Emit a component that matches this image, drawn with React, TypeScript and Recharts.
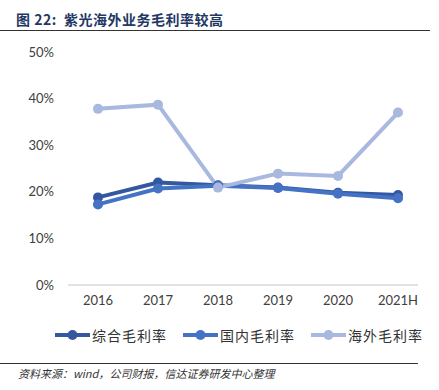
import { LineChart, Line, XAxis, YAxis } from "recharts";

const YEARS = ["2016", "2017", "2018", "2019", "2020", "2021H"];
const TOTAL_MARGIN = [18.8, 22.0, 21.4, 20.9, 19.8, 19.3];
const DOMESTIC_MARGIN = [17.3, 20.7, 21.3, 20.8, 19.6, 18.6];
const OVERSEAS_MARGIN = [37.8, 38.7, 20.9, 23.9, 23.4, 37.0];
const Y_TICKS = [0, 10, 20, 30, 40, 50];

const SERIES = [
  { key: "total", name: "综合毛利率", color: "#34589f" },
  { key: "domestic", name: "国内毛利率", color: "#4472c4" },
  { key: "overseas", name: "海外毛利率", color: "#a9b8de" },
];

const data = YEARS.map((year, i) => ({
  year,
  total: TOTAL_MARGIN[i],
  domestic: DOMESTIC_MARGIN[i],
  overseas: OVERSEAS_MARGIN[i],
}));

const CJK = '"Noto Sans CJK SC", "Noto Sans", sans-serif';
const tickStyle = { fontSize: 13, fill: "#404040", fontFamily: "Lato, sans-serif" };

function LegendRow() {
  return (
    <div
      style={{
        position: "absolute",
        top: 325,
        left: 55,
        display: "flex",
        gap: 16,
        fontFamily: CJK,
        fontSize: 14,
        color: "#333",
        lineHeight: "20px",
      }}
    >
      {SERIES.map((s) => (
        <div key={s.key} style={{ display: "flex", alignItems: "center" }}>
          <svg width={35} height={12} style={{ marginRight: 2 }}>
            <line x1={0} y1={6} x2={35} y2={6} stroke={s.color} strokeWidth={4} />
            <circle cx={17.5} cy={6} r={5} fill={s.color} />
          </svg>
          <span style={{ letterSpacing: 1 }}>{s.name}</span>
        </div>
      ))}
    </div>
  );
}

export default function App() {
  return (
    <div
      style={{
        position: "absolute",
        left: 0,
        top: 0,
        width: 439,
        height: 390,
        background: "#fff",
        overflow: "hidden",
      }}
    >
      <div
        style={{
          position: "absolute",
          left: 16,
          top: 9,
          fontFamily: CJK,
          fontWeight: 700,
          fontSize: 14,
          color: "#1f3864",
          whiteSpace: "nowrap",
          letterSpacing: 0.5,
        }}
      >
        图 22:&nbsp; 紫光海外业务毛利率较高
      </div>
      <div
        style={{
          position: "absolute",
          left: 0,
          top: 30,
          width: 430,
          height: 1,
          background: "#333",
        }}
      />
      <div style={{ position: "absolute", left: 0, top: 0 }}>
        <LineChart
          width={439}
          height={310}
          data={data}
          margin={{ top: 52, right: 21, bottom: 0, left: 0 }}
        >
          <XAxis
            dataKey="year"
            height={25}
            padding={{ left: 30, right: 20 }}
            tickLine={false}
            tickSize={0}
            tickMargin={11}
            axisLine={{ stroke: "#d9d9d9", strokeWidth: 1.5 }}
            tick={tickStyle}
            interval={0}
          />
          <YAxis
            width={68}
            domain={[0, 50]}
            ticks={Y_TICKS}
            axisLine={false}
            tickLine={false}
            tickSize={0}
            tickMargin={14}
            tick={tickStyle}
            tickFormatter={(v) => `${v}%`}
          />
          {SERIES.map((s) => (
            <Line
              key={s.key}
              dataKey={s.key}
              name={s.name}
              stroke={s.color}
              strokeWidth={4}
              dot={{ r: 5, fill: s.color, stroke: s.color, strokeWidth: 0 }}
              isAnimationActive={false}
            />
          ))}
        </LineChart>
      </div>
      <LegendRow />
      <div
        style={{
          position: "absolute",
          left: 0,
          top: 363,
          width: 418,
          height: 1,
          background: "#333",
        }}
      />
      <div
        style={{
          position: "absolute",
          left: 18,
          top: 365,
          fontFamily: CJK,
          fontStyle: "italic",
          fontSize: 11,
          color: "#333",
          whiteSpace: "nowrap",
        }}
      >
        资料来源：wind，公司财报，信达证券研发中心整理
      </div>
    </div>
  );
}
